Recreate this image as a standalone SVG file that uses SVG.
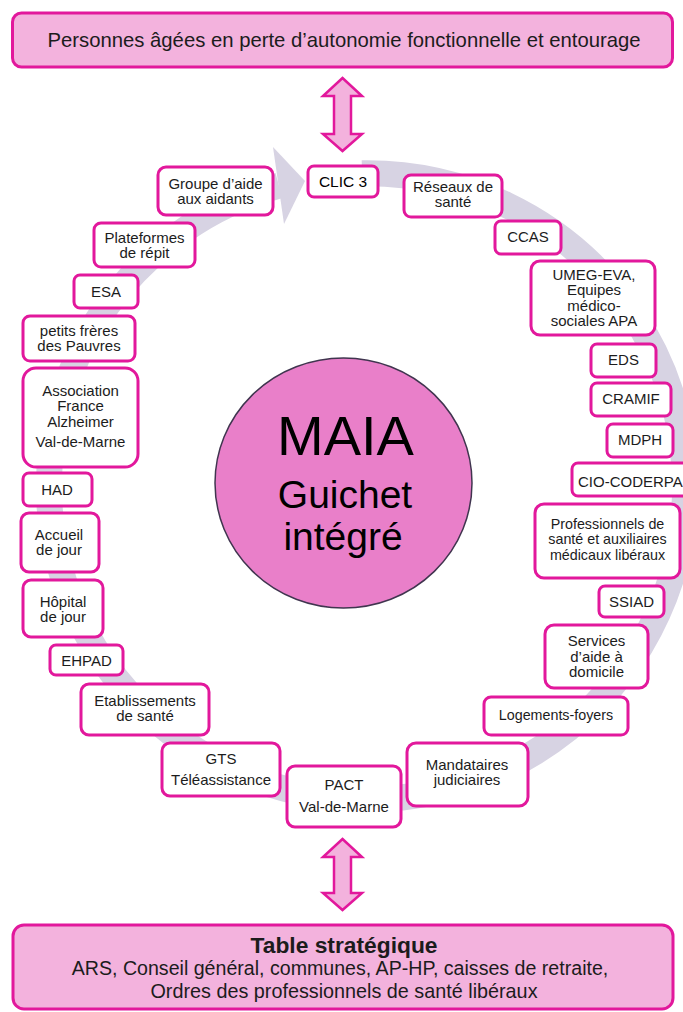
<svg xmlns="http://www.w3.org/2000/svg" width="683" height="1012" viewBox="0 0 683 1012">
<defs>
<style>
text{font-family:'Liberation Sans',Arial,sans-serif;fill:#1c1c1c;text-anchor:middle}
.b{fill:#fff;stroke:#e2189c;stroke-width:3}
.big{fill:#f3b2dd;stroke:#e2189c;stroke-width:3}
.t{font-size:15px}
.ts{font-size:14.3px}
.dbl{fill:#f3b2dd;stroke:#e2189c;stroke-width:2.5;stroke-linejoin:miter}
</style>
</defs>
<rect width="683" height="1012" fill="#fff"/>
<g id="connectors">
<path d="M 361.9 173.3 A 318 313 0 1 1 279 185.5" fill="none" stroke="#d7d3e3" stroke-width="26"/>
<polygon points="273,147 305,181 284,224" fill="#d7d3e3"/>
<polygon class="dbl" points="342.5,78 362,96 351,96 351,134 362,134 342.5,151 323,134 334,134 334,96 323,96"/>
<polygon class="dbl" points="342.5,839 362,857 351,857 351,893 362,893 342.5,910 323,893 334,893 334,857 323,857"/>
</g>
<g id="top">
<rect class="big" x="12.5" y="13" width="660" height="54" rx="9"/>
<text x="344" y="47" style="font-size:20.3px">Personnes âgées en perte d’autonomie fonctionnelle et entourage</text>
</g>
<g id="bottom">
<rect class="big" x="13" y="925" width="660" height="84" rx="11"/>
<text x="344" y="953" style="font-size:22.8px;font-weight:bold">Table stratégique</text>
<text x="340" y="975" style="font-size:19.6px">ARS, Conseil général, communes, AP-HP, caisses de retraite,</text>
<text x="344" y="998" style="font-size:19.8px">Ordres des professionnels de santé libéraux</text>
</g>
<g id="maia">
<ellipse cx="343.5" cy="483" rx="128.5" ry="125" fill="#e97fc9" stroke="#40354f" stroke-width="1.5"/>
<text x="345.5" y="455" style="font-size:56px;fill:#000">MAIA</text>
<text x="345" y="508" style="font-size:39px;fill:#000">Guichet</text>
<text x="343" y="550" style="font-size:39px;fill:#000">intégré</text>
</g>
<g id="clic3">
<rect class="b" x="308" y="166" width="70" height="31" rx="6"/>
<text class="t" x="343" y="187" style="font-size:15.5px;fill:#000">CLIC 3</text>
</g>
<g id="reseaux">
<rect class="b" x="404" y="175" width="98" height="42" rx="7"/>
<text class="t" x="453" y="192">Réseaux de</text>
<text class="t" x="453" y="207">santé</text>
</g>
<g id="ccas">
<rect class="b" x="495" y="221" width="66" height="33" rx="6"/>
<text class="t" x="528" y="242">CCAS</text>
</g>
<g id="umeg">
<rect class="b" x="531" y="261" width="124" height="74" rx="9"/>
<text class="t" x="594" y="280">UMEG-EVA,</text>
<text class="t" x="594" y="295">Equipes</text>
<text class="t" x="594" y="311">médico-</text>
<text class="t" x="594" y="326">sociales APA</text>
</g>
<g id="eds">
<rect class="b" x="591" y="344" width="65" height="33" rx="6"/>
<text class="t" x="623.5" y="365">EDS</text>
</g>
<g id="cramif">
<rect class="b" x="591" y="383" width="80" height="33" rx="6"/>
<text class="t" x="631" y="404">CRAMIF</text>
</g>
<g id="mdph">
<rect class="b" x="607" y="424" width="66" height="33" rx="6"/>
<text class="t" x="640" y="445">MDPH</text>
</g>
<g id="cio">
<rect class="b" x="572" y="463" width="122" height="33" rx="6"/>
<text class="t" x="578" y="487" style="text-anchor:start">CIO-CODERPA</text>
</g>
<g id="professionnels">
<rect class="b" x="535" y="504" width="145" height="74" rx="9"/>
<text class="ts" x="607.5" y="529">Professionnels de</text>
<text class="ts" x="607.5" y="544">santé et auxiliaires</text>
<text class="ts" x="607.5" y="560">médicaux libéraux</text>
</g>
<g id="ssiad">
<rect class="b" x="599" y="586" width="65" height="31" rx="6"/>
<text class="t" x="631.5" y="607">SSIAD</text>
</g>
<g id="services">
<rect class="b" x="545" y="625" width="103" height="63" rx="9"/>
<text class="t" x="596.5" y="646">Services</text>
<text class="t" x="596.5" y="662">d’aide à</text>
<text class="t" x="596.5" y="677">domicile</text>
</g>
<g id="logements">
<rect class="b" x="484" y="697" width="144" height="38" rx="7"/>
<text class="ts" x="556" y="720">Logements-foyers</text>
</g>
<g id="mandataires">
<rect class="b" x="407" y="743" width="121" height="63" rx="9"/>
<text class="t" x="467" y="770">Mandataires</text>
<text class="t" x="467" y="785">judiciaires</text>
</g>
<g id="pact">
<rect class="b" x="287" y="766" width="114" height="61" rx="8"/>
<text class="t" x="344" y="790">PACT</text>
<text class="t" x="344" y="812">Val-de-Marne</text>
</g>
<g id="gts">
<rect class="b" x="162" y="743" width="118" height="53" rx="8"/>
<text class="t" x="221" y="764">GTS</text>
<text class="t" x="221" y="785">Téléassistance</text>
</g>
<g id="etablissements">
<rect class="b" x="81" y="684" width="128" height="51" rx="8"/>
<text class="t" x="145" y="705.5">Etablissements</text>
<text class="t" x="145" y="720.5">de santé</text>
</g>
<g id="ehpad">
<rect class="b" x="50" y="645" width="73" height="30" rx="6"/>
<text class="t" x="86.5" y="666">EHPAD</text>
</g>
<g id="hopital">
<rect class="b" x="23" y="580" width="80" height="57" rx="8"/>
<text class="t" x="63" y="606.5">Hôpital</text>
<text class="t" x="63" y="621.5">de jour</text>
</g>
<g id="accueil">
<rect class="b" x="21" y="513" width="78" height="59" rx="8"/>
<text class="t" x="59" y="539.5">Accueil</text>
<text class="t" x="59" y="554.5">de jour</text>
</g>
<g id="had">
<rect class="b" x="23" y="473" width="69" height="33" rx="6"/>
<text class="t" x="57" y="494.5">HAD</text>
</g>
<g id="alzheimer">
<rect class="b" x="23" y="368" width="115" height="99" rx="13"/>
<text class="t" x="80.5" y="396">Association</text>
<text class="t" x="80.5" y="411">France</text>
<text class="t" x="80.5" y="427">Alzheimer</text>
<text class="t" x="80.5" y="447">Val-de-Marne</text>
</g>
<g id="petits-freres">
<rect class="b" x="23" y="316" width="112" height="45" rx="7"/>
<text class="t" x="79" y="336">petits frères</text>
<text class="t" x="79" y="351">des Pauvres</text>
</g>
<g id="esa">
<rect class="b" x="74" y="275" width="64" height="33" rx="6"/>
<text class="t" x="106" y="297">ESA</text>
</g>
<g id="plateformes">
<rect class="b" x="94" y="223" width="101" height="44" rx="7"/>
<text class="t" x="144.5" y="242.5">Plateformes</text>
<text class="t" x="144.5" y="257.5">de répit</text>
</g>
<g id="groupe">
<rect class="b" x="158" y="167" width="115" height="48" rx="8"/>
<text class="t" x="215.5" y="188.5">Groupe d’aide</text>
<text class="t" x="215.5" y="203.5">aux aidants</text>
</g>
</svg>
